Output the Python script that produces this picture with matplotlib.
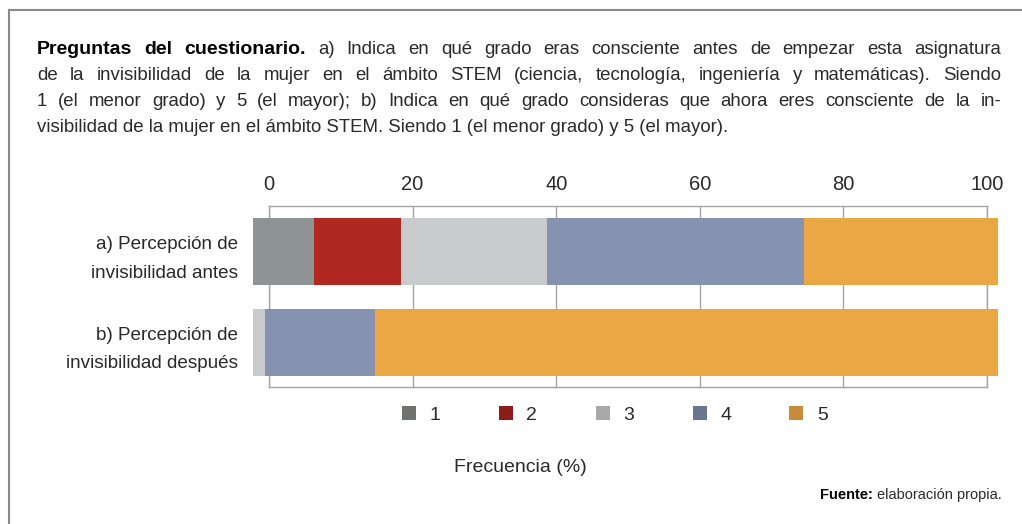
import numpy as np
import matplotlib.pyplot as plt
from matplotlib.patches import Patch
from matplotlib.lines import Line2D

# ------------------------------------------------------------
# Datos (porcentaje de respuestas por nivel 1-5)
# ------------------------------------------------------------
categorias = ["a) Percepción de\ninvisibilidad antes",
              "b) Percepción de\ninvisibilidad después"]
niveles = ["1", "2", "3", "4", "5"]
nivel_1 = [8.2, 0.0]
nivel_2 = [11.7, 0.0]
nivel_3 = [19.6, 1.6]
nivel_4 = [34.5, 14.8]
nivel_5 = [26.0, 83.6]
ticks_x = [0, 20, 40, 60, 80, 100]

colores_barra = ['#8e9494', '#b0281f', '#c9cacc', '#8592b0', '#eaa744']
colores_leyenda = ['#6e736f', '#8f1d17', '#a9a9a9', '#69768f', '#c98a3a']

titulo_negrita = "Preguntas del cuestionario."
lineas_titulo = [
    "a) Indica en qué grado eras consciente antes de empezar esta asignatura",
    "de la invisibilidad de la mujer en el ámbito STEM (ciencia, tecnología, ingeniería y matemáticas). Siendo",
    "1 (el menor grado) y 5 (el mayor); b) Indica en qué grado consideras que ahora eres consciente de la in-",
    "visibilidad de la mujer en el ámbito STEM. Siendo 1 (el menor grado) y 5 (el mayor).",
]

plt.rcParams['font.family'] = ['Liberation Sans', 'DejaVu Sans']
TXT = '#2a2a2a'
W, H = 1022, 524
FS_TIT = 13.4


def fx(px):
    return px / W


def fy(py):
    return 1 - py / H


fig = plt.figure(figsize=(W / 100, H / 100), dpi=100)
rend = fig.canvas.get_renderer()


def justificar(palabras, y_base, x0, x1):
    """Coloca palabras (texto, peso) repartidas entre x0 y x1 (texto justificado)"""
    arts = [fig.text(0, fy(y_base), p, fontsize=FS_TIT + (0.6 if w == 'bold' else 0),
                     fontweight=w, color='black' if w == 'bold' else TXT, va='baseline')
            for p, w in palabras]
    anchos = [a.get_window_extent(rend).width for a in arts]
    hueco = (x1 - x0 - sum(anchos)) / (len(arts) - 1)
    x = x0
    for a, ancho in zip(arts, anchos):
        a.set_x(fx(x))
        x += ancho + hueco


# marco exterior (arriba e izquierda)
fig.add_artist(Line2D([fx(9), 1], [fy(10), fy(10)], color='#8a8a8a', lw=1.5))
fig.add_artist(Line2D([fx(9), fx(9)], [fy(10), 0], color='#8a8a8a', lw=1.5))

# ------------------------------------------------------------
# Texto del cuestionario (justificado salvo la última línea)
# ------------------------------------------------------------
bases = [54, 80, 106, 132]
primera = [(p, 'bold') for p in titulo_negrita.split()] + \
          [(p, 'normal') for p in lineas_titulo[0].split()]
justificar(primera, bases[0], 37, 1001)
for linea, b in zip(lineas_titulo[1:3], bases[1:3]):
    justificar([(p, 'normal') for p in linea.split()], b, 37, 1001)
fig.text(fx(37), fy(bases[3]), lineas_titulo[3], fontsize=FS_TIT, color=TXT, va='baseline')

# ------------------------------------------------------------
# Rejilla y escala superior
# ------------------------------------------------------------
ax = fig.add_axes([fx(269), fy(387), fx(987) - fx(269), fy(206) - fy(387)])
ax.set_xlim(0, 100)
ax.set_xticks(ticks_x)
ax.set_yticks([])
ax.xaxis.tick_top()
ax.tick_params(axis='x', length=0, labelsize=14.5, pad=9, labelcolor=TXT)
ax.grid(axis='x', color='#a5a5a5', lw=1)
for s in ax.spines.values():
    s.set_color('#a5a5a5')
    s.set_linewidth(1)

# ------------------------------------------------------------
# Barras apiladas
# ------------------------------------------------------------
axb = fig.add_axes([fx(253), fy(387), fx(998) - fx(253), fy(206) - fy(387)])
axb.set_frame_on(False)
axb.set_xlim(0, 100)
axb.set_ylim(1.49, -0.5)
axb.set_xticks([])

y = np.arange(len(categorias))
series = [nivel_1, nivel_2, nivel_3, nivel_4, nivel_5]
izq = np.zeros(len(categorias))
for vals, col in zip(series, colores_barra):
    axb.barh(y, vals, left=izq, height=0.73, color=col, edgecolor='none')
    izq += np.array(vals)

axb.set_yticks(y)
axb.set_yticklabels(categorias, fontsize=13.6, color=TXT, linespacing=1.85)
axb.tick_params(axis='y', length=0, pad=11)

# leyenda
handles = [Patch(facecolor=c, edgecolor='none') for c in colores_leyenda]
fig.legend(handles, niveles, loc='center', bbox_to_anchor=(fx(615), fy(415)),
           ncol=5, frameon=False, fontsize=14, handlelength=0.72, handleheight=0.72,
           handletextpad=0.7, columnspacing=3.0, labelcolor=TXT)

fig.text(fx(520), fy(467), "Frecuencia (%)", fontsize=14, color=TXT,
         ha='center', va='center')

fuente = fig.text(fx(1002), fy(495), "elaboración propia.", fontsize=10.5,
                  color=TXT, ha='right', va='center')
fig.add_artist(plt.Annotation("Fuente: ", xy=(0, 0), xycoords=fuente, ha='right',
                              va='bottom', fontsize=10.5, fontweight='bold', color='black'))

fig.savefig('out.png', dpi=100)
